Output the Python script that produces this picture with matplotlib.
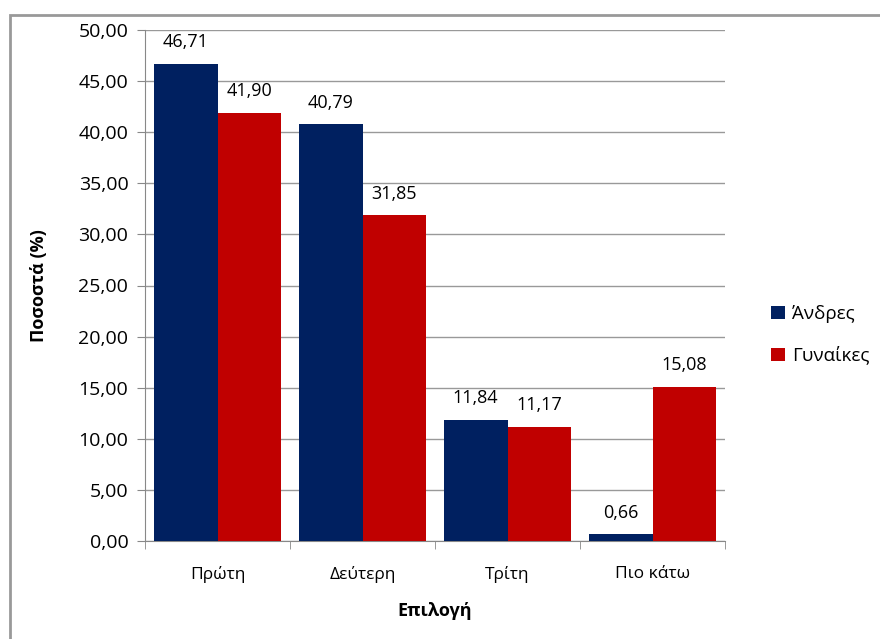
import numpy as np
import matplotlib.pyplot as plt
from matplotlib.patches import Rectangle

plt.rcParams['font.family'] = ['Open Sans', 'DejaVu Sans']

categories = ['Πρώτη', 'Δεύτερη', 'Τρίτη', 'Πιο κάτω']
andres = [46.71, 40.79, 11.84, 0.66]
gynaikes = [41.90, 31.85, 11.17, 15.08]
series_names = ['Άνδρες', 'Γυναίκες']

W, H = 880, 639
fig = plt.figure(figsize=(W / 100, H / 100), dpi=100)

# outer frame (cut off on the right and bottom like the source)
fig.patches.append(Rectangle((10 / W, -0.5), 2, 0.5 + (H - 15) / H, transform=fig.transFigure,
                             fill=False, edgecolor='#999999', linewidth=2))

ax = fig.add_axes([145 / W, (H - 541) / H, 580 / W, 511 / H])

x = np.arange(len(categories))
bw = 0.44
b1 = ax.bar(x - bw / 2, andres, bw, color='#002060', label=series_names[0], zorder=3)
b2 = ax.bar(x + bw / 2, gynaikes, bw, color='#C00000', label=series_names[1], zorder=3)

for bars, vals in ((b1, andres), (b2, gynaikes)):
    for b, v in zip(bars, vals):
        ax.annotate(f'{v:.2f}'.replace('.', ','), (b.get_x() + b.get_width() / 2, v),
                    xytext=(0, 9), textcoords='offset points', ha='center', va='bottom',
                    fontsize=13)

ax.set_xlim(-0.5, len(categories) - 0.5)
ax.set_ylim(0, 50)
ax.set_yticks(np.arange(0, 51, 5))
ax.set_yticklabels([f'{v:.2f}'.replace('.', ',') for v in np.arange(0, 51, 5)], fontsize=14)
ax.set_xticks(x)
ax.set_xticklabels(categories, fontsize=12.5)
ax.set_xticks(np.arange(-0.5, len(categories), 1), minor=True)
ax.tick_params(axis='x', which='major', length=0, pad=18)
ax.tick_params(axis='x', which='minor', length=6, color='#888888')
ax.tick_params(axis='y', length=6, color='#888888', pad=6)
ax.grid(axis='y', color='#999999', linewidth=1, zorder=0)

for s in ('top', 'right'):
    ax.spines[s].set_visible(False)
for s in ('left', 'bottom'):
    ax.spines[s].set_color('#888888')

ax.set_ylabel('Ποσοστά (%)', fontsize=13, fontweight='bold', labelpad=22)
ax.set_xlabel('Επιλογή', fontsize=13, fontweight='bold', labelpad=14)

ax.legend(loc='center left', bbox_to_anchor=(1.08, 0.403), frameon=False, fontsize=13.5,
          handlelength=0.7, handleheight=0.7, handletextpad=0.4, labelspacing=1.2,
          borderpad=0, borderaxespad=0)

fig.savefig('out.png', dpi=100)
